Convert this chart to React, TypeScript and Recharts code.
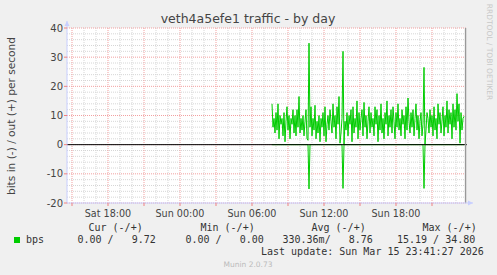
import React from 'react';
import { ComposedChart, Line, XAxis, YAxis, CartesianGrid, ReferenceLine } from 'recharts';

// time axis in minutes since Sat 00:00
const domainStart = 875;
const domainEnd = 2875;
const firstSample = 1900; // Sun 07:40
const stepMinutes = 5;
const nowMarker = 2868;

const outValues = [
  14, 6, 9, 4, 11, 5, 14, 2, 10, 7,
  9, 3, 11, 1, 8, 13, 5, 10, 2, 9,
  7, 12, 4, 10, 3, 12, 6, 16.5, 4, 9,
  5, 10, 3, 8, 12, 2, 1.5, 34.8, 6, 13,
  3, 9, 5, 13.5, 2, 8, 4, 10, 1, 9,
  6, 11, 3, 13, 1, 7, 10, 5, 12, 8,
  4, 14, 6, 10, 2, 13, 7, 16.5, 0.5, 4,
  9, 32, 0, 8, 5, 11, 3, 10, 7, 12,
  1, 13, 4, 9, 6, 15, 2, 11, 5, 9,
  12, 3, 14.5, 6, 10, 2, 8, 13, 4, 11,
  6, 9, 3, 13, 7, 12, 1, 10, 5, 14,
  4, 9, 2, 11, 7, 15, 3, 10, 6, 12,
  4, 13, 8, 2, 11, 6, 14, 5, 9, 3,
  12, 7, 10, 2, 13, 5, 16, 8, 4, 11,
  6, 12, 3, 9, 14, 5, 10, 2, 8, 11,
  3, 7, 26.5, 0, 5, 11, 9, 4, 12, 6,
  10, 3, 13, 5, 9, 2, 14, 7, 11, 4,
  8, 13, 3, 10, 6, 15, 4, 12, 7, 11,
  2, 14, 6, 12, 5, 17.5, 8, 14, 0.5, 11,
  5, 9, 9.72,
];

const inSpikeIndex = [37, 71, 152];
const inSpikeValues = [-15.19, -15.0, -15.0];

const yTicks = [-20, -10, 0, 10, 20, 30, 40];
const yMinor = [-18, -16, -14, -12, -8, -6, -4, -2, 2, 4, 6, 8, 12, 14, 16, 18, 22, 24, 26, 28, 32, 34, 36, 38];
const xMajor = [900, 1080, 1260, 1440, 1620, 1800, 1980, 2160, 2340, 2520, 2700];
const xMinor = [
  960, 1020, 1140, 1200, 1320, 1380, 1500, 1560, 1680, 1740, 1860, 1920,
  2040, 2100, 2220, 2280, 2400, 2460, 2580, 2640, 2760, 2820,
];
const xLabelMinutes = [1080, 1440, 1800, 2160, 2520];
const xLabelTexts = ['Sat 18:00', 'Sun 00:00', 'Sun 06:00', 'Sun 12:00', 'Sun 18:00'];

const legendHeaders = ['Cur (-/+)', 'Min (-/+)', 'Avg (-/+)', 'Max (-/+)'];
const legendValues = ['0.00 /   9.72', '0.00 /   0.00', '330.36m/   8.76', '15.19 / 34.80'];
const seriesName = 'bps';
const title = 'veth4a5efe1 traffic - by day';
const yLabel = 'bits in (-) / out (+) per second';
const lastUpdate = 'Last update: Sun Mar 15 23:41:27 2026';
const footer = 'Munin 2.0.73';
const sideText = 'RRDTOOL / TOBI OETIKER';

const GREEN = '#00cc00';
const AXIS = '#c8cfff';

const data: any[] = [{ t: domainStart, zero: 0 }];
outValues.forEach((v, i) => {
  const k = inSpikeIndex.indexOf(i);
  data.push({ t: firstSample + i * stepMinutes, out: v, inb: k >= 0 ? inSpikeValues[k] : 0, zero: 0 });
});
data.push({ t: domainEnd, zero: 0 });

const XTick = (props: any) => {
  const { x, y, payload } = props;
  const idx = xLabelMinutes.indexOf(payload.value);
  return (
    <g>
      <line x1={x} x2={x} y1={y} y2={y + 3} stroke="#f08080" strokeWidth={1} />
      {idx >= 0 && (
        <text x={x} y={y + 10} textAnchor="middle" dominantBaseline="central"
          fontFamily="DejaVu Sans" fontSize={9.6} fill="#444">
          {xLabelTexts[idx]}
        </text>
      )}
    </g>
  );
};

const YTick = (props: any) => {
  const { x, y, payload } = props;
  return (
    <g>
      <line x1={x - 3} x2={x} y1={y} y2={y} stroke="#f08080" strokeWidth={1} />
      <text x={x - 4} y={y} textAnchor="end" dominantBaseline="central"
        fontFamily="DejaVu Sans" fontSize={10} fill="#444">
        {payload.value}
      </text>
    </g>
  );
};

const ArrowUp = (props: any) => {
  const { x1, y1, x2, y2 } = props;
  const ax = x2;
  const ay = Math.min(y1, y2);
  return (
    <g>
      <line x1={x1} y1={Math.max(y1, y2)} x2={ax} y2={ay} stroke={AXIS} strokeWidth={1} />
      <polygon points={`${ax - 2.5},${ay + 5} ${ax + 2.5},${ay + 5} ${ax},${ay}`} fill={AXIS} />
    </g>
  );
};

const ArrowRight = (props: any) => {
  const { x1, y1, x2, y2 } = props;
  const ax = Math.max(x1, x2);
  return (
    <g>
      <line x1={Math.min(x1, x2)} y1={y1} x2={ax} y2={y2} stroke={AXIS} strokeWidth={1} />
      <polygon points={`${ax - 5},${y2 - 2.5} ${ax - 5},${y2 + 2.5} ${ax},${y2}`} fill={AXIS} />
    </g>
  );
};

const mono: React.CSSProperties = {
  position: 'absolute',
  fontFamily: '"DejaVu Sans Mono", monospace',
  fontSize: 10,
  lineHeight: '12px',
  color: '#333',
  whiteSpace: 'pre',
};

const headerLeft = [88.5, 200.5, 311.5, 422.5];
const valueLeft = [77.5, 185.5, 282.5, 397];

export default function App() {
  return (
    <div style={{ position: 'absolute', left: 0, top: 0, width: 497, height: 275, background: '#f0f0f0', overflow: 'hidden' }}>
      <ComposedChart width={497} height={275} data={data}
        margin={{ top: 28, right: 30, bottom: 52, left: 0 }}>
        <CartesianGrid fill="#ffffff" stroke="#d6d6d6" strokeDasharray="1 1"
          horizontalValues={yMinor} verticalValues={xMinor} />
        <CartesianGrid fill="none" stroke="#f2a0a0" strokeDasharray="1 1"
          horizontalValues={yTicks} verticalValues={xMajor} />
        <XAxis type="number" dataKey="t" domain={[domainStart, domainEnd]} allowDataOverflow
          ticks={xMajor} interval={0} tickLine={false} tickSize={0} tickMargin={0}
          axisLine={{ stroke: AXIS }} tick={<XTick />} height={20} />
        <YAxis type="number" domain={[-20, 40]} ticks={yTicks} interval={0} allowDataOverflow
          tickLine={false} tickSize={0} tickMargin={0}
          axisLine={{ stroke: AXIS }} tick={<YTick />} width={67} />
        <Line dataKey="inb" stroke={GREEN} strokeWidth={1} dot={false} isAnimationActive={false} type="linear" />
        <Line dataKey="out" stroke={GREEN} strokeWidth={1} dot={false} isAnimationActive={false} type="linear" />
        <Line dataKey="zero" stroke="#000000" strokeWidth={1} dot={false} isAnimationActive={false} type="linear" />
        <ReferenceLine x={nowMarker} stroke="#999999" strokeWidth={1.5} />
        <ReferenceLine segment={[{ x: domainStart, y: 40 }, { x: domainStart, y: 42.4 }]}
          ifOverflow="visible" shape={<ArrowUp />} />
        <ReferenceLine segment={[{ x: domainEnd, y: -20 }, { x: domainEnd + 30, y: -20 }]}
          ifOverflow="visible" shape={<ArrowRight />} />
      </ComposedChart>

      <div style={{ position: 'absolute', left: 248, top: 19, transform: 'translate(-50%,-50%)',
        fontFamily: '"DejaVu Sans"', fontSize: 12.5, color: '#444', whiteSpace: 'nowrap', lineHeight: '16px' }}>
        {title}
      </div>
      <div style={{ position: 'absolute', left: 11, top: 115.5, transform: 'translate(-50%,-50%) rotate(-90deg)',
        fontFamily: '"DejaVu Sans"', fontSize: 10.6, color: '#444', whiteSpace: 'nowrap', lineHeight: '12px' }}>
        {yLabel}
      </div>
      <div style={{ position: 'absolute', left: 489, top: 52, transform: 'translate(-50%,-50%) rotate(90deg)',
        fontFamily: '"DejaVu Sans"', fontSize: 7.5, color: '#c8c8c8', whiteSpace: 'nowrap', lineHeight: '9px' }}>
        {sideText}
      </div>

      {legendHeaders.map((h, i) => (
        <div key={h} style={{ ...mono, left: headerLeft[i], top: 222 }}>{h}</div>
      ))}
      <div style={{ position: 'absolute', left: 14, top: 237, width: 6, height: 6, background: GREEN }} />
      <div style={{ ...mono, left: 26, top: 234 }}>{seriesName}</div>
      {legendValues.map((v, i) => (
        <div key={i} style={{ ...mono, left: valueLeft[i], top: 234 }}>{v}</div>
      ))}
      <div style={{ ...mono, left: 261, top: 246 }}>{lastUpdate}</div>
      <div style={{ position: 'absolute', left: 248, top: 264, transform: 'translate(-50%,-50%)',
        fontFamily: '"DejaVu Sans"', fontSize: 7.5, color: '#bbbbbb', whiteSpace: 'nowrap', lineHeight: '9px' }}>
        {footer}
      </div>
    </div>
  );
}
